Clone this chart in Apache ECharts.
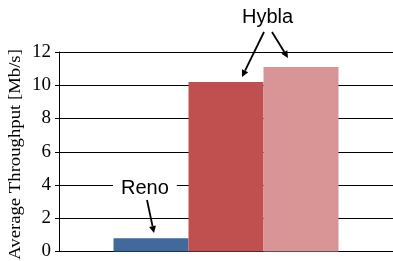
<!DOCTYPE html>
<html>
<head>
<meta charset="utf-8">
<script src="https://cdn.jsdelivr.net/npm/echarts@6/dist/echarts.min.js"></script>
<style>
  html, body { margin: 0; padding: 0; background: #fff; }
  #chart { width: 393px; height: 261px; }
</style>
</head>
<body>
<div id="chart"></div>
<script>
const categories = [''];
const renoValues = [0.79];
const hyblaValues = [10.2];
const hyblaLightValues = [11.1];
const yTicks = [0, 2, 4, 6, 8, 10, 12];
const yTitle = 'Average Throughput [Mb/s]';

const serif = '"Liberation Serif", "Times New Roman", serif';
const sans = '"Liberation Sans", Arial, sans-serif';

const chart = echarts.init(document.getElementById('chart'), null, { renderer: 'canvas' });

const barStyle = (color) => ({ color });

chart.setOption({
  animation: false,
  // plot runs a little past the right edge so the bar group sits right of centre
  grid: { left: 59, width: 339, top: 52, bottom: 7 },
  xAxis: {
    type: 'category',
    data: categories,
    axisLine: { lineStyle: { color: '#000', width: 1 } },
    axisTick: { show: false },
    axisLabel: { show: false },
  },
  yAxis: {
    type: 'value',
    min: yTicks[0],
    max: yTicks[yTicks.length - 1],
    interval: 2,
    axisLine: { show: true, lineStyle: { color: '#000', width: 1 } },
    axisTick: { show: true, length: 4, lineStyle: { color: '#000' } },
    axisLabel: { fontFamily: serif, fontSize: 19, color: '#000', margin: 8 },
    splitLine: { lineStyle: { color: '#000', width: 1 } },
  },
  series: [
    { name: 'Reno', type: 'bar', data: renoValues, barWidth: 75, barGap: '0%', itemStyle: barStyle('#41699B') },
    { name: 'Hybla', type: 'bar', data: hyblaValues, barWidth: 75, barGap: '0%', itemStyle: barStyle('#C0504F') },
    { name: 'Hybla 2', type: 'bar', data: hyblaLightValues, barWidth: 75, barGap: '0%', itemStyle: barStyle('#D99595') },
  ],
});

// annotations: labels with arrows
const arrow = (x1, y1, x2, y2) => {
  const a = Math.atan2(y2 - y1, x2 - x1);
  const L = 7, W = 3.5;
  const bx = x2 - L * Math.cos(a), by = y2 - L * Math.sin(a);
  return {
    type: 'group',
    z: 100,
    children: [
      { type: 'line', shape: { x1, y1, x2: bx, y2: by }, style: { stroke: '#000', lineWidth: 1.8 } },
      {
        type: 'polygon',
        shape: { points: [[x2, y2], [bx + W * Math.sin(a), by - W * Math.cos(a)], [bx - W * Math.sin(a), by + W * Math.cos(a)]] },
        style: { fill: '#000' },
      },
    ],
  };
};

chart.setOption({
  graphic: [
    // y axis title, stretched along its length like the original
    {
      type: 'text', x: 16, y: 154.5, rotation: Math.PI / 2, scaleX: 1.17, z: 100,
      style: { text: yTitle, font: '16px ' + serif, fill: '#000', align: 'center', verticalAlign: 'middle' },
    },
    {
      type: 'text', left: 242, top: 7, z: 100,
      style: { text: 'Hybla', font: '20px ' + sans, fill: '#000' },
    },
    arrow(264, 32, 242, 77),
    arrow(272, 32, 288, 58),
    {
      type: 'text', left: 113, top: 178, z: 100,
      style: { text: 'Reno', font: '20px ' + sans, fill: '#000', backgroundColor: '#fff', padding: [0, 8, 0, 8] },
    },
    arrow(147, 200, 154, 233),
  ],
});
</script>
</body>
</html>
